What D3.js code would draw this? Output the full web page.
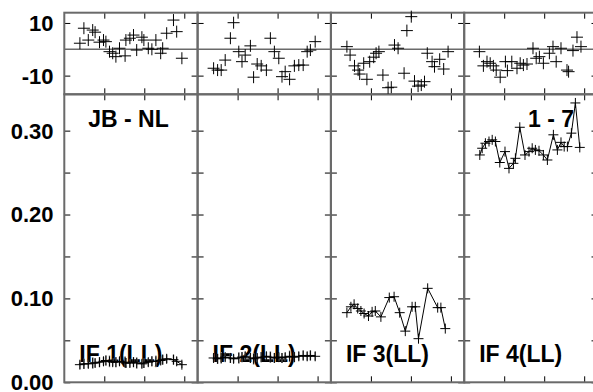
<!DOCTYPE html>
<html><head><meta charset="utf-8">
<script src="https://cdn.jsdelivr.net/npm/d3@7"></script>
<style>
html,body{margin:0;padding:0;background:#fff;}
svg{display:block;font-family:"Liberation Sans",Arial,sans-serif;}
</style></head><body>
<svg id="c" width="593" height="392"></svg>
<script>
// ---------- data ----------
const panelNames = ["IF 1(LL)", "IF 2(LL)", "IF 3(LL)", "IF 4(LL)"];
const topTickValues = [-10, 10];
const topTickLabels = ["-10", "10"];
const botTickValues = [0, 0.05, 0.10, 0.15, 0.20, 0.25, 0.30];
const botTickLabels = ["0.00", "", "0.10", "", "0.20", "", "0.30"];
const xTickValues = [1, 2, 3];

// residuals (top row)
const resid1X = [0.39,0.49,0.60,0.71,0.77,0.88,0.98,1.04,1.13,1.21,1.29,1.38,1.52,1.54,1.64,1.73,1.81,1.94,1.99,2.10,2.19,2.29,2.41,2.46,2.56,2.73,2.81,2.94];
const resid1Y = [2.3,8.0,3.5,7.3,6.5,2.7,3.5,2.9,-0.9,-1.5,-2.8,0.4,-2.5,3.5,4.2,5.4,-0.3,4.6,3.5,0.4,0.0,3.5,-1.5,0.4,6.1,11.1,6.7,-3.4];
const resid2X = [0.40,0.50,0.59,0.69,0.82,0.90,1.03,1.11,1.19,1.32,1.40,1.49,1.59,1.72,1.82,1.92,2.03,2.11,2.19,2.30,2.42,2.53,2.64,2.74,2.82,2.94];
const resid2Y = [-7.2,-7.9,-7.9,-4.1,4.2,10.1,-0.9,-4.7,-2.2,1.3,-10.6,-5.6,-6.3,-7.9,4.2,-0.9,-3.4,-10.4,-8.5,-11.4,-6.3,-6.0,-6.0,-0.9,-0.3,2.9];
const resid3X = [0.40,0.48,0.59,0.68,0.72,0.82,0.90,0.97,1.07,1.13,1.20,1.30,1.43,1.51,1.59,1.68,1.83,1.90,2.01,2.09,2.18,2.26,2.34,2.41,2.53,2.59,2.72,2.82,2.93];
const resid3Y = [1.0,-2.2,-6.3,-7.9,-9.4,-5.3,-11.4,-4.7,-3.0,-1.5,-0.9,-9.8,-14.6,-14.4,1.6,0.4,-9.1,7.1,12.4,-12.1,-14.0,-13.6,-12.3,-1.5,-4.7,-6.6,-3.8,-7.5,-0.9];
const resid4X = [0.38,0.48,0.57,0.65,0.73,0.80,0.90,1.03,1.08,1.19,1.32,1.40,1.48,1.57,1.72,1.80,1.88,1.98,2.13,2.22,2.30,2.42,2.57,2.61,2.72,2.82,2.92];
const resid4Y = [-0.9,-6.3,-4.7,-5.3,-6.3,-7.9,-10.6,-4.7,-8.1,-4.7,-7.2,-5.3,-6.0,-5.6,0.4,-3.4,-2.8,-5.3,-1.5,1.0,-4.7,0.4,-7.9,-8.5,-0.5,4.6,1.0];

// measured values (bottom row)
const data1X = resid1X;
const data1Y = [0.021,0.022,0.022,0.023,0.023,0.024,0.025,0.026,0.025,0.024,0.024,0.025,0.024,0.023,0.023,0.024,0.023,0.022,0.023,0.024,0.025,0.025,0.026,0.027,0.028,0.027,0.025,0.021];
const data1Err = [0.005,0.006,0.005,0.007,0.005,0.006,0.005,0.006,0.007,0.005,0.006,0.005,0.007,0.006,0.005,0.006,0.007,0.005,0.006,0.005,0.006,0.007,0.005,0.006,0.005,0.006,0.005,0.004];
const data2X = resid2X;
const data2Y = [0.029,0.028,0.029,0.030,0.029,0.028,0.029,0.030,0.031,0.029,0.028,0.029,0.030,0.031,0.030,0.029,0.030,0.029,0.030,0.031,0.030,0.031,0.032,0.031,0.032,0.031];
const data2Err = [0.005,0.006,0.007,0.005,0.006,0.005,0.007,0.006,0.005,0.006,0.007,0.005,0.006,0.005,0.007,0.006,0.005,0.006,0.005,0.007,0.006,0.005,0.006,0.005,0.006,0.005];
const data3X = [0.40,0.50,0.58,0.67,0.75,0.83,0.94,1.03,1.11,1.25,1.46,1.58,1.72,1.86,2.03,2.11,2.19,2.42,2.67,2.75,2.86];
const data3Y = [0.083,0.090,0.093,0.088,0.085,0.082,0.079,0.084,0.085,0.078,0.101,0.102,0.083,0.061,0.090,0.090,0.052,0.112,0.089,0.089,0.064];
const data4X = [0.39,0.45,0.53,0.62,0.70,0.78,0.89,1.02,1.12,1.23,1.28,1.39,1.52,1.62,1.70,1.78,1.87,1.98,2.08,2.23,2.33,2.42,2.50,2.58,2.68,2.78,2.89];
const data4Y = [0.271,0.279,0.285,0.287,0.289,0.287,0.262,0.275,0.255,0.261,0.267,0.304,0.271,0.275,0.279,0.277,0.276,0.271,0.265,0.295,0.277,0.286,0.281,0.281,0.297,0.333,0.280];

const residX = [resid1X, resid2X, resid3X, resid4X];
const residY = [resid1Y, resid2Y, resid3Y, resid4Y];
const dataX = [data1X, data2X, data3X, data4X];
const dataY = [data1Y, data2Y, data3Y, data4Y];
const dataErr = [data1Err, data2Err, null, null];

// ---------- layout ----------
const left0 = 64.3, panelW = 133.3;
const topT = 12.7, topB = 94.3, botB = 382.3;
const frameColor = "#6a6a6a";

const svg = d3.select("#c");
const x = d3.scaleLinear().domain([0, 3.333]).range([0, panelW]);
const yTop = d3.scaleLinear().domain([-17.1, 13.9]).range([topB, topT]);
const yBot = d3.scaleLinear().domain([0, 0.3433]).range([botB, topB]);

function clean(g){ g.select(".domain").remove(); g.selectAll("line").attr("stroke","#000").attr("stroke-width",1); }

const cross = s => `M${-s},0H${s}M0,${-s}V${s}`;

for (let p = 0; p < 4; p++) {
  const g = svg.append("g").attr("transform", `translate(${left0 + p*panelW},0)`);

  // zero line in residual panel
  g.append("line").attr("x1",0).attr("x2",panelW)
    .attr("y1",yTop(0)).attr("y2",yTop(0))
    .attr("stroke",frameColor).attr("stroke-width",1.5);

  // y ticks (inward both sides)
  const ylTop = d3.axisLeft(yTop).tickValues(topTickValues).tickSize(-6).tickFormat("");
  const yrTop = d3.axisRight(yTop).tickValues(topTickValues).tickSize(-6).tickFormat("");
  g.append("g").call(ylTop).call(clean);
  g.append("g").attr("transform",`translate(${panelW},0)`).call(yrTop).call(clean);
  const ylBot = d3.axisLeft(yBot).tickValues(botTickValues).tickSize(-6).tickFormat("");
  const yrBot = d3.axisRight(yBot).tickValues(botTickValues).tickSize(-6).tickFormat("");
  g.append("g").call(ylBot).call(clean);
  g.append("g").attr("transform",`translate(${panelW},0)`).call(yrBot).call(clean);

  // x ticks inward
  const xt = d3.axisTop(x).tickValues(xTickValues).tickSize(-6).tickFormat("");
  const xb = d3.axisBottom(x).tickValues(xTickValues).tickSize(-6).tickFormat("");
  g.append("g").attr("transform",`translate(0,${topT})`).call(xt).call(clean);
  g.append("g").attr("transform",`translate(0,${topB})`).call(xb).call(clean);
  g.append("g").attr("transform",`translate(0,${topB})`).call(xt).call(clean);
  g.append("g").attr("transform",`translate(0,${botB})`).call(xb).call(clean);

  // frames
  g.append("rect").attr("x",0).attr("y",topT).attr("width",panelW).attr("height",topB-topT)
    .attr("fill","none").attr("stroke",frameColor).attr("stroke-width",2);
  g.append("rect").attr("x",0).attr("y",topB).attr("width",panelW).attr("height",botB-topB)
    .attr("fill","none").attr("stroke",frameColor).attr("stroke-width",2);

  // residual crosses
  const rd = residX[p].map((v,i)=>({x:v, y:residY[p][i]}));
  g.append("g").selectAll("path").data(rd).join("path")
    .attr("d", cross(6)).attr("transform", d=>`translate(${x(d.x)},${yTop(d.y)})`)
    .attr("stroke","#000").attr("stroke-width",1).attr("fill","none");

  // panel label
  g.append("text").attr("x",15).attr("y",362).text(panelNames[p])
    .attr("font-size",23).attr("font-weight","bold").attr("fill","#000");

  // data
  const dd = dataX[p].map((v,i)=>({x:v, y:dataY[p][i], e: dataErr[p] ? dataErr[p][i] : 0}));
  if (dataErr[p]) {
    g.append("g").selectAll("line").data(dd).join("line")
      .attr("x1",d=>x(d.x)).attr("x2",d=>x(d.x))
      .attr("y1",d=>yBot(d.y-d.e)).attr("y2",d=>yBot(d.y+d.e))
      .attr("stroke","#888").attr("stroke-width",1.5);
  }
  g.append("path").datum(dd)
    .attr("d", d3.line().x(d=>x(d.x)).y(d=>yBot(d.y)))
    .attr("fill","none").attr("stroke","#000").attr("stroke-width",1);
  g.append("g").selectAll("path").data(dd).join("path")
    .attr("d", cross(5)).attr("transform", d=>`translate(${x(d.x)},${yBot(d.y)})`)
    .attr("stroke","#000").attr("stroke-width",1).attr("fill","none");
}

// y tick labels
const lab = svg.append("g").attr("font-size",22).attr("font-weight","bold").attr("text-anchor","end");
lab.selectAll("text.t").data(topTickValues).join("text").attr("class","t")
  .attr("x",53.5).attr("y",d=>yTop(d)).attr("dy","0.36em")
  .text((d,i)=>topTickLabels[i]);
lab.selectAll("text.b").data(botTickValues).join("text").attr("class","b")
  .attr("x",53.5).attr("y",d=>yBot(d)).attr("dy","0.36em")
  .text((d,i)=>botTickLabels[i]);

// annotations
svg.append("text").attr("x",128.5).attr("y",127).attr("text-anchor","middle")
  .attr("font-size",23).attr("font-weight","bold").text("JB - NL");
svg.append("text").attr("x",551).attr("y",126.5).attr("text-anchor","middle")
  .attr("font-size",23).attr("font-weight","bold").text("1 - 7");
</script>
</body></html>
